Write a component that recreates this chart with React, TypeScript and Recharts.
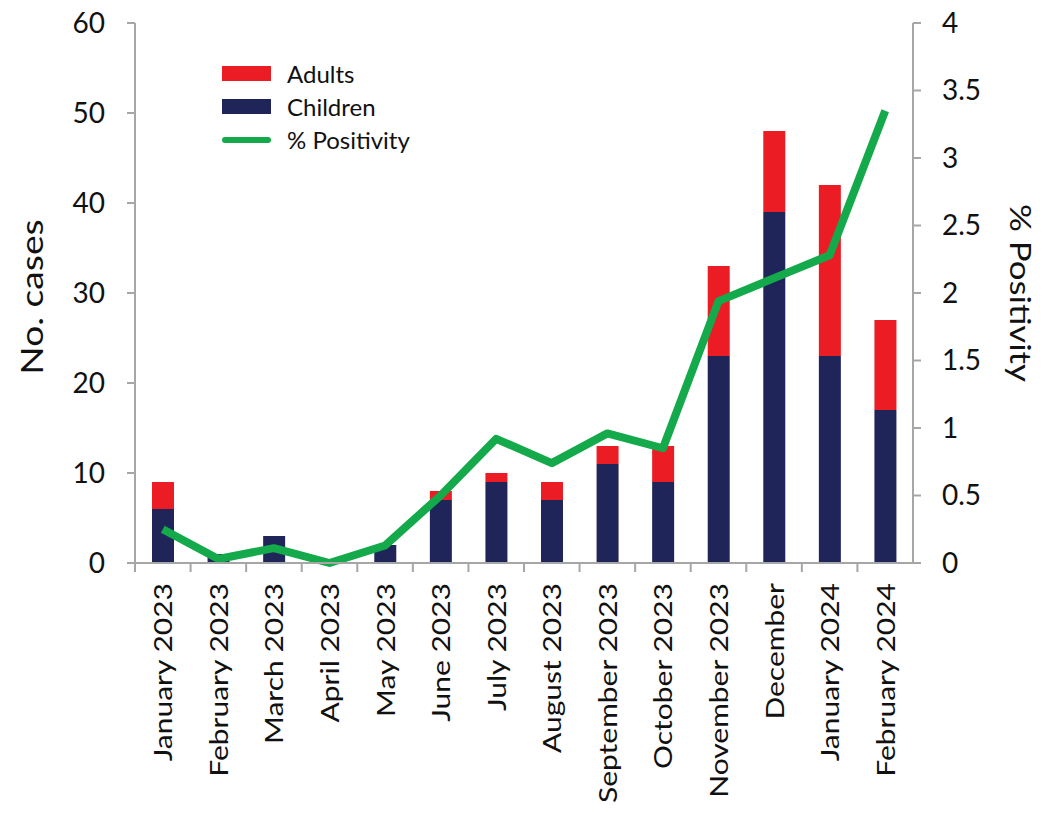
import { ComposedChart, Bar, Line, XAxis, YAxis } from 'recharts'

const months = [
  'January 2023', 'February 2023', 'March 2023', 'April 2023', 'May 2023', 'June 2023', 'July 2023',
  'August 2023', 'September 2023', 'October 2023', 'November 2023', 'December', 'January 2024', 'February 2024',
]
const children = [6, 1, 3, 0, 2, 7, 9, 7, 11, 9, 23, 39, 23, 17]
const adults = [3, 0, 0, 0, 0, 1, 1, 2, 2, 4, 10, 9, 19, 10]
const positivity = [0.25, 0.03, 0.11, 0, 0.13, 0.5, 0.92, 0.74, 0.96, 0.85, 1.94, 2.11, 2.28, 3.35]
const casesTicks = [0, 10, 20, 30, 40, 50, 60]
const positivityTicks = [0, 0.5, 1, 1.5, 2, 2.5, 3, 3.5, 4]

const data = months.map((m, i) => ({ month: m, children: children[i], adults: adults[i], positivity: positivity[i] }))

const FONT = 'Lato, "Open Sans", sans-serif'
const AXIS = '#a6a6a6'
const RED = '#ec1c24'
const NAVY = '#1f2559'
const GREEN = '#14a94a'
const INK = '#111'

const W = 1045
const H = 813
const TOP = 23
const LEFT_W = 135
const RIGHT_W = 132
const BAND = (W - LEFT_W - RIGHT_W) / months.length
// vertical texts in the original are drawn stretched along their length
const STRETCH = 1.2

function MonthTick({ x, y, payload }: any) {
  return (
    <g>
      <line x1={x - BAND / 2} y1={y} x2={x - BAND / 2} y2={y + 9} stroke={AXIS} strokeWidth={2} />
      <text
        transform={`translate(${x} ${y + 20}) rotate(-90) scale(${STRETCH} 1)`}
        textAnchor='end'
        dominantBaseline='central'
        fontSize={25}
        fontFamily={FONT}
        fill={INK}
      >
        {payload.value}
      </text>
    </g>
  )
}

function AxisTitle({ text, cx, cy, angle, size }: { text: string; cx: number; cy: number; angle: number; size: number }) {
  return (
    <text
      transform={`translate(${cx} ${cy}) rotate(${angle}) scale(${STRETCH} 1)`}
      textAnchor='middle'
      dominantBaseline='central'
      fontSize={size}
      fontFamily={FONT}
      fill={INK}
    >
      {text}
    </text>
  )
}

const legendItems = [
  { label: 'Adults', color: RED, kind: 'rect' },
  { label: 'Children', color: NAVY, kind: 'rect' },
  { label: '% Positivity', color: GREEN, kind: 'line' },
]

function ChartLegend() {
  return (
    <div style={{ position: 'absolute', left: 222, top: 57, fontFamily: FONT, fontSize: 24, color: INK }}>
      {legendItems.map((it) => (
        <div key={it.label} style={{ display: 'flex', alignItems: 'center', height: 33 }}>
          <div
            style={{
              width: 49,
              height: it.kind === 'rect' ? 15 : 6,
              borderRadius: it.kind === 'line' ? 3 : 0,
              background: it.color,
              marginRight: 16,
            }}
          />
          {it.label}
        </div>
      ))}
    </div>
  )
}

export default function App() {
  const midY = TOP + (H - TOP - 250) / 2
  return (
    <div style={{ position: 'absolute', left: 0, top: 0, width: W, height: H, background: '#fff' }}>
      <ComposedChart width={W} height={H} data={data} margin={{ top: TOP, right: 0, bottom: 0, left: 0 }} barSize={22}>
        <XAxis
          dataKey='month'
          interval={0}
          height={250}
          tick={<MonthTick />}
          tickLine={false}
          tickSize={0}
          tickMargin={0}
          stroke={AXIS}
          strokeWidth={2}
        />
        <YAxis
          yAxisId='cases'
          width={LEFT_W}
          domain={[0, 60]}
          ticks={casesTicks}
          tickSize={8}
          tickMargin={22}
          stroke={AXIS}
          strokeWidth={2}
          tick={{ fontSize: 28, fontFamily: FONT, fill: INK }}
          label={() => <AxisTitle text='No. cases' cx={31} cy={midY + 4} angle={-90} size={31} />}
        />
        <YAxis
          yAxisId='pos'
          orientation='right'
          width={RIGHT_W}
          domain={[0, 4]}
          ticks={positivityTicks}
          tickSize={8}
          tickMargin={21}
          stroke={AXIS}
          strokeWidth={2}
          tick={{ fontSize: 28, fontFamily: FONT, fill: INK, textAnchor: 'start' }}
          label={() => <AxisTitle text='% Positivity' cx={1021} cy={midY} angle={90} size={29} />}
        />
        <Bar yAxisId='cases' dataKey='children' name='Children' stackId='a' fill={NAVY} isAnimationActive={false} />
        <Bar yAxisId='cases' dataKey='adults' name='Adults' stackId='a' fill={RED} isAnimationActive={false} />
        <Line
          yAxisId='pos'
          dataKey='positivity'
          name='% Positivity'
          stroke={GREEN}
          strokeWidth={8}
          dot={false}
          activeDot={false}
          strokeLinejoin='round'
          isAnimationActive={false}
        />
      </ComposedChart>
      <ChartLegend />
    </div>
  )
}
